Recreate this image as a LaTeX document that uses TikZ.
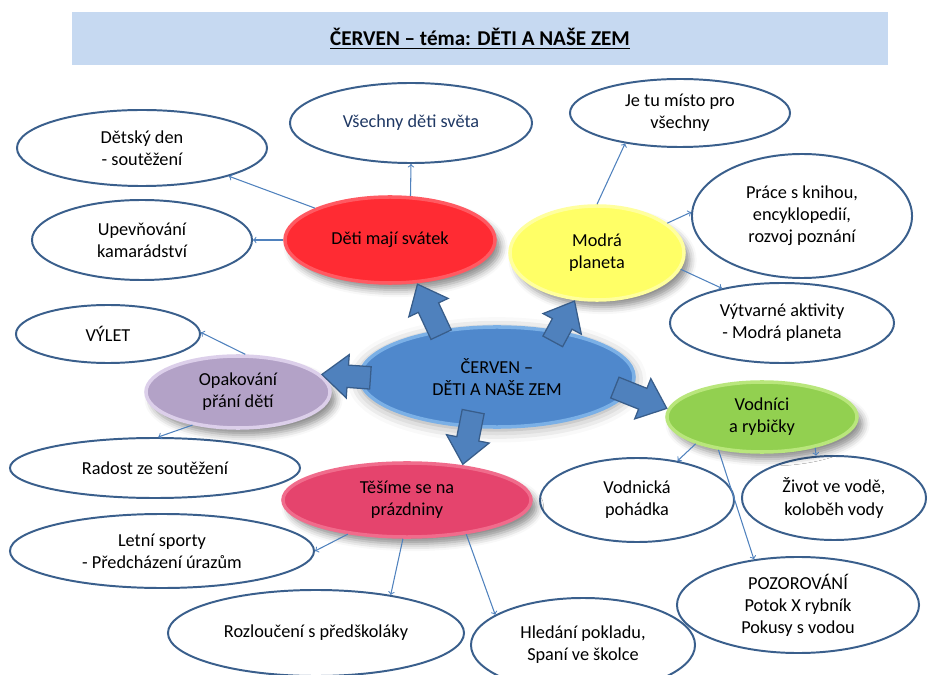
\documentclass[tikz,border=0pt]{standalone}
\usepackage{fontspec}
\setmainfont{Carlito}
\usetikzlibrary{arrows}
\usetikzlibrary{calc}
\usetikzlibrary{shapes.geometric}
\usetikzlibrary{shapes.arrows}
\usetikzlibrary{shadows.blur}

\definecolor{band}{HTML}{C6D9F1}
\definecolor{rim}{HTML}{3A5F8C}
\definecolor{navy}{HTML}{1F3864}
\definecolor{linkblue}{HTML}{4F81BD}
\definecolor{arrowblue}{HTML}{4F81BD}
\definecolor{arrowrim}{HTML}{385D8A}
\definecolor{svatek}{HTML}{FF2B33}
\definecolor{svatekrim}{HTML}{FF5A62}
\definecolor{planeta}{HTML}{FFFF66}
\definecolor{planetarim}{HTML}{FFFF9E}
\definecolor{stred}{HTML}{4F88CC}
\definecolor{stredrim}{HTML}{7BB0E6}
\definecolor{prani}{HTML}{B3A2C7}
\definecolor{pranirim}{HTML}{DCCFEA}
\definecolor{voda}{HTML}{92D050}
\definecolor{vodarim}{HTML}{B9E67C}
\definecolor{leto}{HTML}{E5446D}
\definecolor{letorim}{HTML}{F06C8C}

\tikzstyle{canvas}=[x=0.025cm, y=-0.025cm]
\tikzstyle{bubble}=[ellipse, draw=rim, line width=1.4pt, fill=white, inner sep=0pt, align=center, font=\fontsize{13}{15.7}\selectfont]
\tikzstyle{topic}=[ellipse, line width=2.5pt, inner sep=0pt, align=center, font=\fontsize{13}{15.7}\selectfont]
\tikzstyle{lift}=[blur shadow={shadow xshift=4pt, shadow yshift=-5pt, shadow blur radius=5pt, shadow opacity=45}]
\tikzstyle{glow}=[blur shadow={shadow xshift=0pt, shadow yshift=-2pt, shadow blur radius=9pt, shadow opacity=40}]
\tikzstyle{feed}=[->, draw=linkblue, line width=0.75pt]
\tikzstyle{push}=[single arrow, draw=arrowrim, fill=arrowblue, line width=0.9pt, inner sep=0pt, text height=15pt, text depth=0pt, single arrow head extend=7.5pt, single arrow tip angle=80, sloped, allow upside down]

% thick block arrow, tip on the target border, tail pushed back by #3 pt
\newcommand{\pusharrow}[3]{%
  \path let \p1=($(#2)-(#1)$), \n1={veclen(\x1,\y1)+#3} in
    (#1) -- node[push, pos=1, anchor=tip, minimum height=\n1]{} (#2);}

\begin{document}
\begin{tikzpicture}[canvas]
    \useasboundingbox (0,0) rectangle (928,675);

    % title
    \node (title) [fill=band, minimum width=20.4cm, minimum height=1.325cm] at (480,38.5)
        {\bfseries\fontsize{15}{18}\selectfont\underline{ČERVEN – téma: DĚTI A NAŠE ZEM}};

    % outer ideas
    \node (detsky) [bubble, minimum width=6.25cm, minimum height=1.9cm] at (142,148) {Dětský den\\- soutěžení};
    \node (vsech) [bubble, text=navy, minimum width=6.05cm, minimum height=2cm] at (411,123) {Všechny děti světa};
    \node (upev) [bubble, minimum width=5.5cm, minimum height=2cm] at (142,240) {Upevňování\\kamarádství};
    \node (jetu) [bubble, minimum width=5.5cm, minimum height=1.7cm] at (680,113) {Je tu místo pro\\všechny};
    \node (prace) [bubble, minimum width=5.5cm, minimum height=3.1cm] at (802,216) {Práce s knihou,\\encyklopedií,\\rozvoj poznání};
    \node (vytv) [bubble, minimum width=5.6cm, minimum height=2cm] at (782,323) {Výtvarné aktivity\\- Modrá planeta};
    \node (vylet) [bubble, minimum width=4.6cm, minimum height=1.45cm] at (108,334) {VÝLET};
    \node (radost) [bubble, minimum width=7.25cm, minimum height=1.5cm] at (155,468) {Radost ze soutěžení};
    \node (letni) [bubble, minimum width=7.6cm, minimum height=1.85cm] at (162,551) {Letní sporty\\- Předcházení úrazům};
    \node (rozl) [bubble, minimum width=7.4cm, minimum height=2.15cm] at (316,633) {Rozloučení s předškoláky};
    \node (hled) [bubble, minimum width=5.6cm, minimum height=2.35cm] at (583,645) {Hledání pokladu,\\Spaní ve školce};
    \node (vodnicka) [bubble, minimum width=4.85cm, minimum height=2.1cm] at (637,500) {Vodnická\\pohádka};
    \node (zivot) [bubble, minimum width=4.6cm, minimum height=2.1cm] at (834,498) {Život ve vodě,\\koloběh vody};
    \node (pozor) [bubble, minimum width=6.05cm, minimum height=2.4cm] at (798,605) {POZOROVÁNÍ\\Potok X rybník\\Pokusy s vodou};

    % themes
    \node (svat) [topic, lift, fill=svatek, draw=svatekrim, minimum width=5.25cm, minimum height=2.15cm] at (390,240) {Děti mají svátek};
    \node (modra) [topic, lift, fill=planeta, draw=planetarim, minimum width=4.35cm, minimum height=2.35cm] at (597,253) {Modrá\\planeta};
    \node (opak) [topic, lift, fill=prani, draw=pranirim, minimum width=4.6cm, minimum height=1.8cm] at (238,392) {Opakování\\přání dětí};
    \node (vodn) [topic, lift, fill=voda, draw=vodarim, minimum width=4.75cm, minimum height=1.75cm] at (762,417) {Vodníci\\a rybičky};
    \node (tes) [topic, lift, fill=leto, draw=letorim, minimum width=6.2cm, minimum height=1.85cm] at (407,500) {Těšíme se na\\prázdniny};
    \node (cen) [topic, glow, fill=stred, draw=stredrim, minimum width=6.85cm, minimum height=2.5cm] at (497,377) {ČERVEN –\\DĚTI A NAŠE ZEM};

    % block arrows from the centre
    \pusharrow{cen.141}{svat.-58}{3}
    \pusharrow{cen.37}{modra.-115}{8}
    \pusharrow{cen.180}{opak.12}{8}
    \pusharrow{cen.-7}{vodn.175}{10}
    \pusharrow{cen.-118}{tes.32}{11}

    % thin links
    \draw[feed] (svat.157) -- (detsky.-18);
    \draw[feed] (svat.180) -- (upev.0);
    \draw[feed] (svat.65) -- (vsech.-90);
    \draw[feed] (modra.90) -- (jetu.209);
    \draw[feed] (modra.23) -- (prace.178);
    \draw[feed] (modra.-11) -- (vytv.150);
    \draw[feed] (opak.79) -- (vylet.1);
    \draw[feed] (opak.216) -- (radost.84);
    \draw[feed] (vodn.202) -- (vodnicka.44);
    \draw[feed] (vodn.-30) -- (zivot.113);
    \draw[feed] (vodn.217) -- (pozor.134);
    \draw[feed] (tes.210) -- (letni.0);
    \draw[feed] (tes.264) -- (rozl.27);
    \draw[feed] (tes.-30) -- (hled.161);
\end{tikzpicture}
\end{document}
